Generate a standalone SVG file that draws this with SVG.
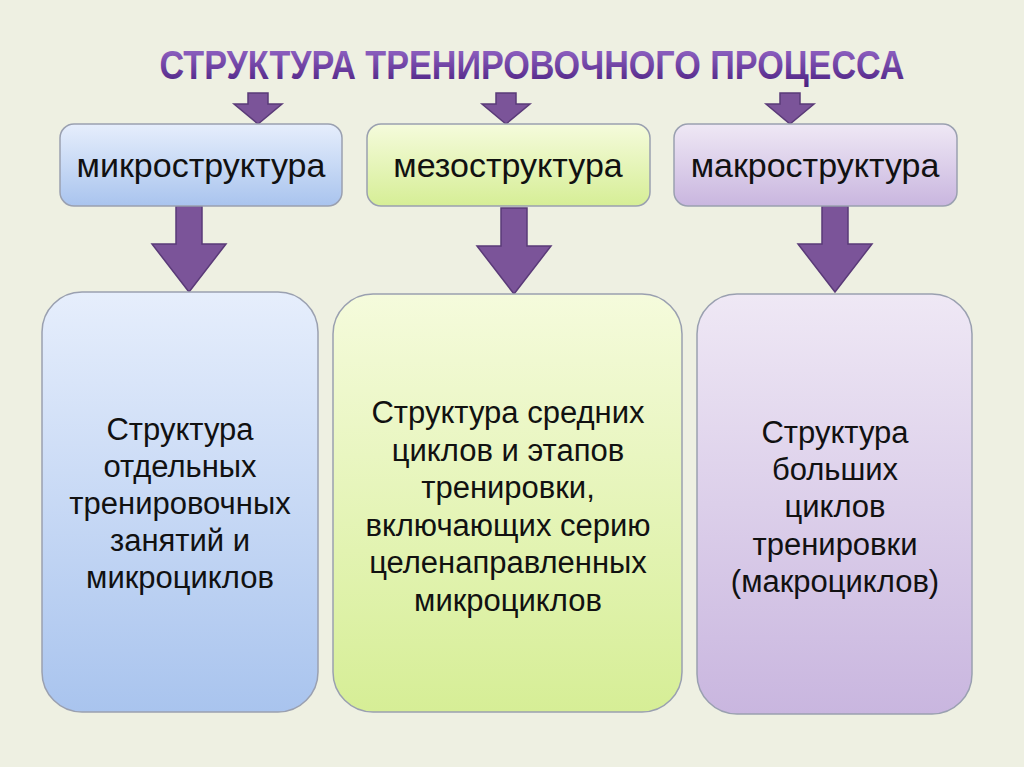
<svg xmlns="http://www.w3.org/2000/svg" width="1024" height="767" viewBox="0 0 1024 767">
<defs>
<linearGradient id="gb" x1="0" y1="0" x2="0" y2="1"><stop offset="0" stop-color="#e6eefc"/><stop offset="1" stop-color="#a9c4ee"/></linearGradient>
<linearGradient id="gg" x1="0" y1="0" x2="0" y2="1"><stop offset="0" stop-color="#f5fbdc"/><stop offset="1" stop-color="#d6ee96"/></linearGradient>
<linearGradient id="gp" x1="0" y1="0" x2="0" y2="1"><stop offset="0" stop-color="#efe8f5"/><stop offset="1" stop-color="#c9b6df"/></linearGradient>
<linearGradient id="gt" x1="0" y1="0" x2="0" y2="1"><stop offset="0" stop-color="#9a6ccc"/><stop offset="1" stop-color="#4a1f80"/></linearGradient>
</defs>
<style>
.box{stroke:#9aa0b0;stroke-width:1.5}
.arr{fill:#7b5499;stroke:#5a3a78;stroke-width:1.5}
.t{font-family:"Liberation Sans",Arial,sans-serif;fill:#111;text-anchor:middle}
.top{font-size:34px}
.bot{font-size:31px}
</style>
<rect width="1024" height="767" fill="#eef0e2"/>
<text x="532" y="79" font-family="'Liberation Sans',Arial,sans-serif" font-weight="bold" font-size="40" fill="url(#gt)" text-anchor="middle" textLength="745" lengthAdjust="spacingAndGlyphs">СТРУКТУРА ТРЕНИРОВОЧНОГО ПРОЦЕССА</text>
<g id="connectors">
<path class="arr" d="M248,93h20v11h14l-24,20l-24,-20h14z"/>
<path class="arr" d="M496,93h20v11h14l-24,20l-24,-20h14z"/>
<path class="arr" d="M780,93h20v11h14l-24,20l-24,-20h14z"/>
<path class="arr" d="M176,206h26v38h24l-37,48l-37,-48h24z"/>
<path class="arr" d="M501,208h26v38h24l-37,48l-37,-48h24z"/>
<path class="arr" d="M822,206h26v38h24l-37,48l-37,-48h24z"/>
</g>
<g id="n1"><rect class="box" x="60" y="124" width="282" height="82" rx="14" fill="url(#gb)"/><text class="t top" x="201" y="177">микроструктура</text></g>
<g id="n2"><rect class="box" x="367" y="124" width="283" height="82" rx="14" fill="url(#gg)"/><text class="t top" x="508" y="177">мезоструктура</text></g>
<g id="n3"><rect class="box" x="674" y="124" width="283" height="82" rx="14" fill="url(#gp)"/><text class="t top" x="815" y="177">макроструктура</text></g>
<g id="n4"><rect class="box" x="42" y="292" width="276" height="420" rx="40" fill="url(#gb)"/>
<text class="t bot" x="180" y="440">Структура</text><text class="t bot" x="180" y="477">отдельных</text><text class="t bot" x="180" y="514">тренировочных</text><text class="t bot" x="180" y="551">занятий и</text><text class="t bot" x="180" y="588">микроциклов</text></g>
<g id="n5"><rect class="box" x="333" y="294" width="349" height="418" rx="40" fill="url(#gg)"/>
<text class="t bot" x="508" y="423">Структура  средних</text><text class="t bot" x="508" y="461">циклов и этапов</text><text class="t bot" x="508" y="498">тренировки,</text><text class="t bot" x="508" y="536">включающих серию</text><text class="t bot" x="508" y="573">целенаправленных</text><text class="t bot" x="508" y="611">микроциклов</text></g>
<g id="n6"><rect class="box" x="697" y="294" width="275" height="420" rx="40" fill="url(#gp)"/>
<text class="t bot" x="835" y="443">Структура</text><text class="t bot" x="835" y="480">больших</text><text class="t bot" x="835" y="517">циклов</text><text class="t bot" x="835" y="555">тренировки</text><text class="t bot" x="835" y="592">(макроциклов)</text></g>
</svg>
